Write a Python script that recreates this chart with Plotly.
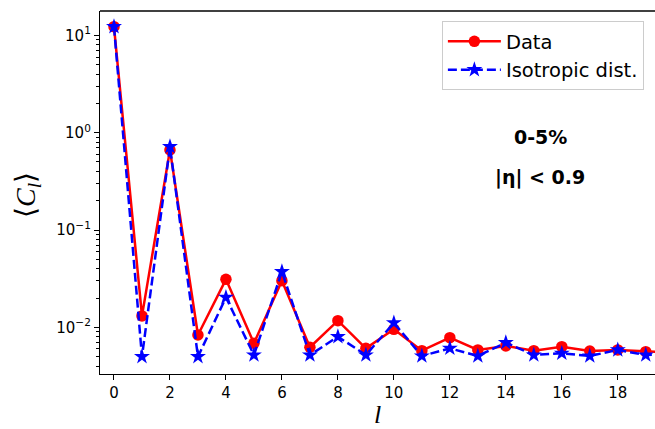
import plotly.graph_objects as go
import numpy as np

ell = list(range(0, 21))
data_cl = [12.3, 0.0131, 0.664, 0.00834, 0.0311, 0.00684, 0.0301, 0.00623, 0.0117, 0.00608,
           0.00953, 0.00575, 0.00782, 0.00585, 0.00643, 0.00575, 0.00632, 0.0057, 0.00585, 0.00562, 0.0055]
iso_cl = [12.3, 0.00499, 0.718, 0.00499, 0.0203, 0.00519, 0.0373, 0.00519, 0.0080, 0.00519,
          0.0111, 0.00507, 0.00608, 0.00507, 0.00695, 0.00519, 0.0054, 0.00507, 0.00585, 0.00519, 0.0053]
x_ticks = list(range(0, 20, 2))
y_major = [0.01, 0.1, 1, 10]
y_labels = ["10<sup>−2</sup>", "10<sup>−1</sup>", "10<sup>0</sup>", "10<sup>1</sup>"]

minor_vals = [m * 10.0 ** e for e in range(-3, 2) for m in range(2, 10)]

fig = go.Figure()
fig.add_trace(go.Scatter(
    x=ell, y=data_cl, name="Data", mode="lines+markers",
    line=dict(color="#ff0000", width=2.5),
    marker=dict(symbol="circle", size=11.5, color="#ff0000"),
))
fig.add_trace(go.Scatter(
    x=ell, y=iso_cl, name="Isotropic dist.", mode="lines+markers",
    line=dict(color="#0000ff", width=2.5, dash="9px,4px"),
    marker=dict(symbol="star", size=12, color="#0000ff"),
))

fig.update_layout(
    width=655, height=429,
    margin=dict(l=100, r=0, t=11, b=55),
    paper_bgcolor="white", plot_bgcolor="white",
    font=dict(family="DejaVu Sans", size=15, color="black"),
    showlegend=True,
    legend=dict(x=0.616, y=0.972, xanchor="left", yanchor="top",
                bordercolor="#cccccc", borderwidth=1, bgcolor="white",
                font=dict(size=19.5, family="DejaVu Sans"),
                tracegroupgap=0, itemwidth=53),
    xaxis=dict(range=[-0.5, 19.33], tickvals=x_ticks, ticks="outside", ticklen=5,
               tickwidth=1.2, tickcolor="black", showline=True, linecolor="black",
               linewidth=1.3, mirror=False, showgrid=False, zeroline=False,
               tickfont=dict(size=15)),
    yaxis=dict(type="log", range=[np.log10(0.00331), 1.251], tickvals=y_major,
               ticktext=y_labels, ticks="outside", ticklen=5, tickwidth=1.2,
               tickcolor="black", showline=True, linecolor="black", linewidth=1.3,
               mirror=False, showgrid=False, zeroline=False, tickfont=dict(size=15),
               minor=dict(tickvals=minor_vals, ticks="outside", ticklen=3,
                          tickwidth=0.9, tickcolor="black", showgrid=False)),
    shapes=[dict(type="line", xref="paper", yref="paper", x0=0, x1=1, y0=1, y1=1,
                 line=dict(color="black", width=1.3))],
    annotations=[
        dict(text="<b>0-5%</b>", xref="paper", yref="paper", x=0.793, y=0.653,
             xanchor="center", yanchor="middle",
             showarrow=False, font=dict(size=19, family="DejaVu Sans")),
        dict(text="<b>|η| < 0.9</b>", xref="paper", yref="paper", x=0.793, y=0.54,
             xanchor="center", yanchor="middle",
             showarrow=False, font=dict(size=19, family="DejaVu Sans")),
        dict(text="⟨<i>C<sub>l</sub></i>⟩", xref="paper", yref="paper",
             x=(27 - 100) / 555, y=(374 - 195) / 363, textangle=-90, showarrow=False,
             xanchor="center", yanchor="middle",
             font=dict(size=28, family="Liberation Serif")),
        dict(text="<i>l</i>", xref="paper", yref="paper",
             x=(377 - 100) / 555, y=(374 - 415) / 363, showarrow=False,
             xanchor="center", yanchor="middle",
             font=dict(size=26, family="Liberation Serif")),
    ],
)

fig.write_html("out.html", config={"displayModeBar": False},
               post_script="document.body.style.margin='0';document.body.style.overflow='hidden';")
